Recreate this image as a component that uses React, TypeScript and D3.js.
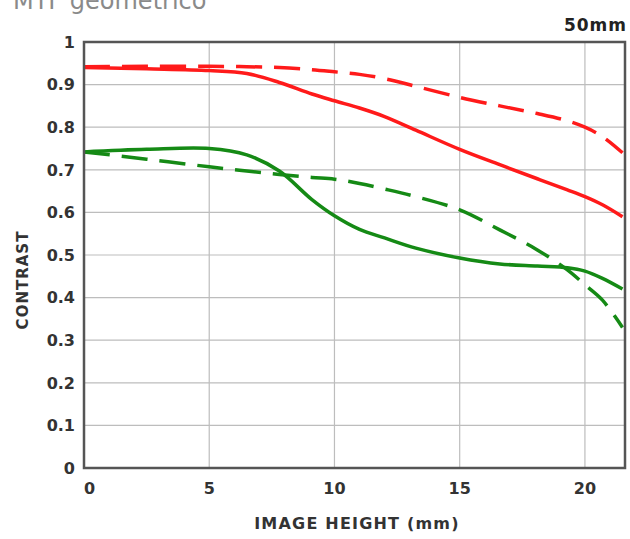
import React from 'react';
import * as d3 from 'd3';

// image height (mm) sample positions
const imageHeight = [0, 2.5, 5, 6.5, 7.8, 9.1, 10, 11, 12, 13.25, 15, 16.6, 18.1, 19.3, 20, 20.7, 21.5];

const redSolid = [0.94, 0.937, 0.933, 0.926, 0.905, 0.878, 0.862, 0.845, 0.825, 0.793, 0.748, 0.712, 0.679, 0.653, 0.637, 0.618, 0.59];
const redDashed = [0.942, 0.943, 0.943, 0.942, 0.94, 0.935, 0.93, 0.924, 0.914, 0.896, 0.87, 0.85, 0.832, 0.815, 0.8, 0.778, 0.74];
const greenSolid = [0.742, 0.748, 0.75, 0.735, 0.697, 0.63, 0.592, 0.56, 0.54, 0.516, 0.493, 0.479, 0.474, 0.47, 0.462, 0.445, 0.42];
const greenDashed = [0.742, 0.725, 0.707, 0.697, 0.689, 0.682, 0.678, 0.668, 0.655, 0.637, 0.606, 0.559, 0.512, 0.465, 0.43, 0.394, 0.33];

const xTicks = [0, 5, 10, 15, 20];
const yTicks = [0, 0.1, 0.2, 0.3, 0.4, 0.5, 0.6, 0.7, 0.8, 0.9, 1];

const series = [
  { values: redDashed, color: '#ff1a1a', dash: '26 12' },
  { values: redSolid, color: '#ff1a1a', dash: null },
  { values: greenDashed, color: '#158a15', dash: '26 12' },
  { values: greenSolid, color: '#158a15', dash: null },
];

export default function App() {
  const width = 630;
  const height = 539;
  const left = 84, right = 625, top = 42, bottom = 468;

  const x = d3.scaleLinear().domain([0, 21.6]).range([left, right]);
  const y = d3.scaleLinear().domain([0, 1]).range([bottom, top]);

  const line = d3.line<number>()
    .x((_, i) => x(imageHeight[i]))
    .y(d => y(d))
    .curve(d3.curveCatmullRom.alpha(0.5));

  const font = 'DejaVu Sans, sans-serif';

  return (
    <svg width={width} height={height} style={{ position: 'absolute', left: 0, top: 0, background: '#fff' }}>
      <text x={13} y={9} fontFamily={font} fontSize={24} fill="#8a8a8a">MTF geometrico</text>
      <text x={627} y={31} textAnchor="end" fontFamily={font} fontWeight="bold" fontSize={17} letterSpacing={1} fill="#222">50mm</text>

      {yTicks.slice(1, -1).map(t => (
        <line key={'gy' + t} x1={left} x2={right} y1={y(t)} y2={y(t)} stroke="#bdbdbd" strokeWidth={1.2} />
      ))}
      {xTicks.slice(1).map(t => (
        <line key={'gx' + t} x1={x(t)} x2={x(t)} y1={top} y2={bottom} stroke="#bdbdbd" strokeWidth={1.2} />
      ))}

      {series.map((s, i) => (
        <path key={i} d={line(s.values) || ''} fill="none" stroke={s.color} strokeWidth={3.5}
          strokeDasharray={s.dash || undefined} />
      ))}

      <rect x={left} y={top} width={right - left} height={bottom - top} fill="none" stroke="#555" strokeWidth={2.5} />

      {yTicks.map(t => (
        <text key={'ly' + t} x={75} y={y(t)} dy="0.36em" textAnchor="end" fontFamily={font} fontWeight="bold" fontSize={16} fill="#333">
          {d3.format('~g')(t)}
        </text>
      ))}
      {xTicks.map(t => (
        <text key={'lx' + t} x={t === 0 ? left : x(t)} y={494} textAnchor={t === 0 ? 'start' : 'middle'} fontFamily={font} fontWeight="bold" fontSize={16} fill="#333">
          {t}
        </text>
      ))}

      <text transform={`translate(28,${(top + bottom) / 2 + 25}) rotate(-90)`} textAnchor="middle" fontFamily={font} fontWeight="bold" fontSize={15} letterSpacing={1} fill="#333">CONTRAST</text>
      <text x={357} y={529} textAnchor="middle" fontFamily={font} fontWeight="bold" fontSize={16} letterSpacing={1.2} fill="#333">IMAGE HEIGHT (mm)</text>
    </svg>
  );
}
